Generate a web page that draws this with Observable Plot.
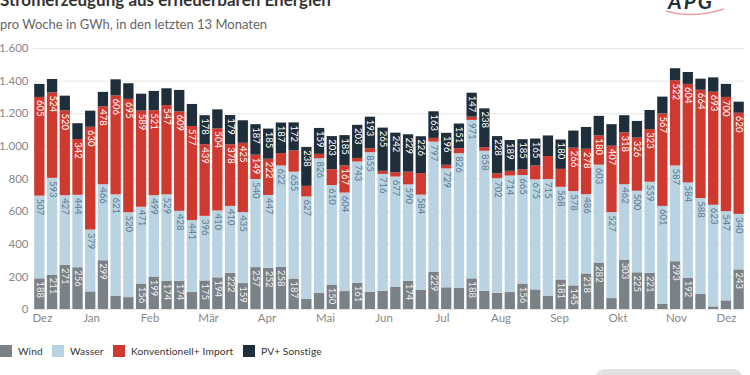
<!DOCTYPE html>
<html>
<head>
<meta charset="utf-8">
<script src="https://cdn.jsdelivr.net/npm/d3@7"></script>
<script src="https://cdn.jsdelivr.net/npm/@observablehq/plot@0.6"></script>
<style>
  body { margin:0; width:750px; height:375px; overflow:hidden; position:relative; font-family:Lato, "Open Sans", sans-serif; background:#fff; }
  #title { position:absolute; left:0; top:-9px; font-size:17px; font-weight:700; color:#333; white-space:nowrap; line-height:17px; }
  #sub { position:absolute; left:0; top:17px; font-size:13px; color:#666; white-space:nowrap; line-height:14px; }
  #logo { position:absolute; left:668px; top:-10px; font-size:21px; font-weight:700; font-style:italic; color:#1f2e3b; letter-spacing:2px; line-height:21px; }
  #swoosh { position:absolute; left:662px; top:7px; }
  #chart { position:absolute; left:0; top:38px; }
  .lg { position:absolute; top:345px; display:flex; align-items:center; font-size:10.2px; color:#333; white-space:nowrap; letter-spacing:0.1px; }
  .lg span.sw { width:12px; height:12px; display:inline-block; margin-right:6px; }
  #btn { position:absolute; left:595px; top:369px; width:148px; height:20px; border-radius:10px; background:#e2e2e2; }
</style>
</head>
<body>
<div id="title">Stromerzeugung aus erneuerbaren Energien</div>
<div id="sub">pro Woche in GWh, in den letzten 13 Monaten</div>
<div id="logo">APG</div>
<svg id="swoosh" width="70" height="10"><path d="M4 4 Q 30 12 62 2" stroke="#e8a0a0" stroke-width="1.5" fill="none"/></svg>
<div id="chart"></div>
<div id="legend"></div>
<div id="btn"></div>
<script>
const seriesNames = ["Wind", "Wasser", "Konventionell+ Import", "PV+ Sonstige"];
const months = ["Dez","Jan","Feb","Mär","Apr","Mai","Jun","Jul","Aug","Sep","Okt","Nov","Dez"];
const yTicks = [0,200,400,600,800,1000,1200,1400,1600];

const wind = [188,211,271,256,108,299,82,73,156,199,174,174,104,175,194,222,159,257,252,258,187,63,98,150,110,161,106,112,135,174,117,229,133,129,188,112,100,104,156,120,82,181,145,218,282,67,303,225,221,31,293,192,92,16,53,243];
const wasser = [507,593,427,444,379,466,621,520,471,499,529,428,441,396,410,410,435,540,447,622,655,627,826,610,604,743,855,716,677,590,584,797,729,826,971,858,702,714,665,675,715,568,578,486,603,527,462,500,559,601,587,584,588,623,547,340];
const konv = [605,524,520,342,630,478,606,695,589,521,547,609,577,439,504,378,425,149,222,76,130,65,27,97,167,22,25,19,27,78,132,23,22,31,20,22,30,29,35,85,141,110,266,278,180,407,318,326,323,567,522,604,664,693,700,620];
const pv = [80,82,90,97,99,88,99,96,104,118,103,132,135,178,116,179,138,187,185,187,172,238,159,203,185,203,193,265,242,229,226,163,196,151,147,238,228,189,185,165,126,180,105,134,119,132,105,102,117,103,74,73,68,88,80,68];

const colors = ["#7b8287", "#b9d3e2", "#cf3a30", "#1f2e3b"];
const labelColors = ["#eef0f2", "#5e7b92", "#ffffff", "#ffffff"];

const seriesValues = [wind, wasser, konv, pv];
const rows = [];
wind.forEach((_, i) => {
  let acc = 0;
  seriesValues.forEach((arr, k) => {
    const v = arr[i];
    rows.push({i, series: seriesNames[k], k, value: v, y1: acc, y2: acc + v});
    acc += v;
  });
});

const monthPos = months.map((m, k) => Math.min(54, Math.max(0.2, 4.07 + (k - 1) * 4.6)));
const fmt = d => d3.format(",")(d).replace(/,/g, ".");

const labelMarks = seriesNames.map((s, k) =>
  Plot.text(rows.filter(d => d.k === k && d.value >= 145), {
    x: "i",
    y: d => d.y2 - 16,
    text: d => String(d.value),
    rotate: 90,
    textAnchor: "start",
    lineAnchor: "middle",
    fill: labelColors[k],
    fontSize: 9.5
  })
);

const chart = Plot.plot({
  width: 750,
  height: 300,
  marginLeft: 33,
  marginRight: 5,
  marginTop: 10,
  marginBottom: 29,
  style: {fontFamily: "Lato, 'Open Sans', sans-serif", fontSize: "11.5px", color: "#888", background: "transparent"},
  x: {domain: [-0.5, 55.5], axis: null},
  y: {domain: [0, 1600], ticks: yTicks, tickFormat: fmt, tickSize: 0, tickPadding: 5, label: null},
  color: {domain: seriesNames, range: colors},
  marks: [
    Plot.ruleY(yTicks, {stroke: "#e6e6e6"}),
    Plot.rect(rows, {x1: d => d.i - 0.5, x2: d => d.i + 0.5, y1: "y1", y2: "y2", fill: "series", insetLeft: 1.2, insetRight: 1.2}),
    ...labelMarks,
    Plot.text(months, {x: (d, k) => monthPos[k], frameAnchor: "bottom", dy: 12, text: d => d, fill: "#888", fontSize: 11.5})
  ]
});
document.getElementById("chart").appendChild(chart);

const legendX = [0, 52, 113, 243];
const legend = document.getElementById("legend");
seriesNames.forEach((s, k) => {
  const item = document.createElement("div");
  item.className = "lg";
  item.style.left = legendX[k] + "px";
  const sw = document.createElement("span");
  sw.className = "sw";
  sw.style.background = colors[k];
  item.appendChild(sw);
  const t = document.createElement("span");
  t.textContent = s;
  item.appendChild(t);
  legend.appendChild(item);
});
</script>
</body>
</html>
